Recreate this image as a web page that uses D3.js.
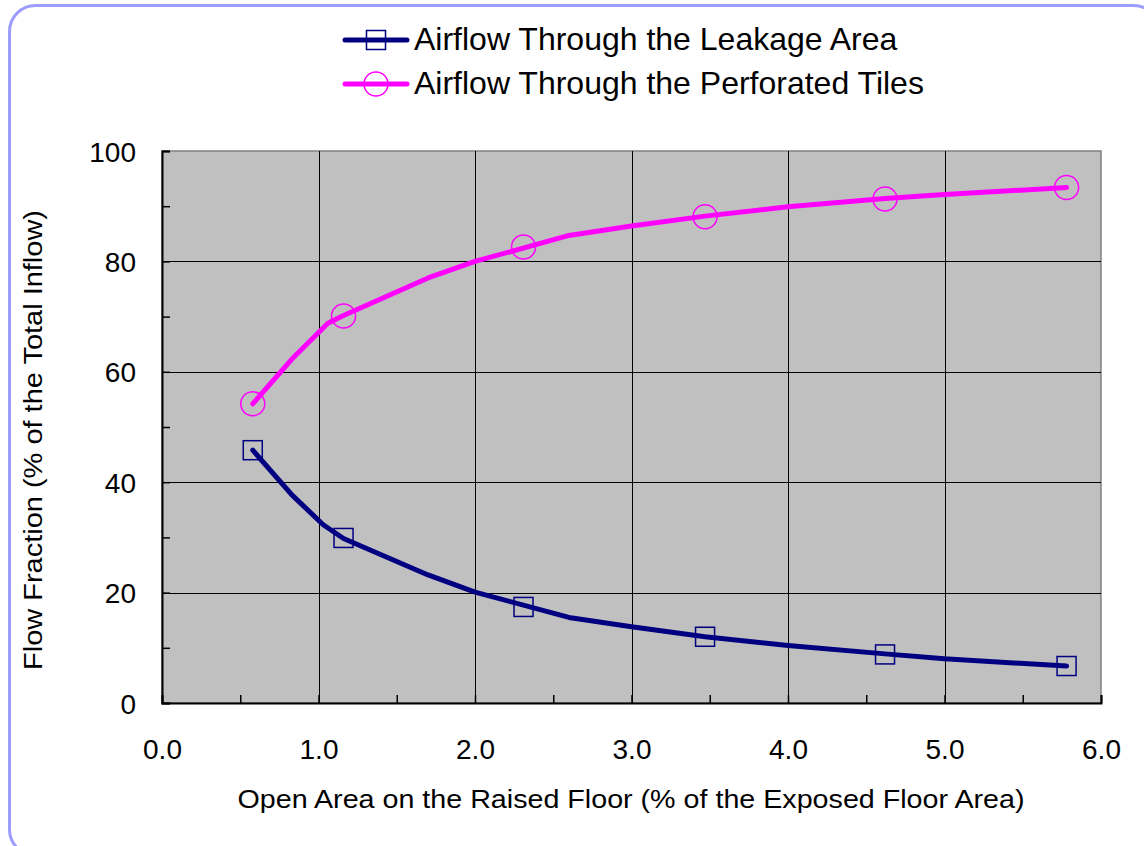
<!DOCTYPE html>
<html><head><meta charset="utf-8">
<script src="https://cdn.jsdelivr.net/npm/d3@7"></script>
<style>body{margin:0;background:#fff}svg{display:block}text{font-family:"Liberation Sans",Arial,sans-serif;fill:#000}</style>
</head><body>
<script>
// ---- data ----
const seriesNames = ["Airflow Through the Leakage Area", "Airflow Through the Perforated Tiles"];
const markerX = [0.58, 1.16, 2.31, 3.47, 4.62, 5.78];
const leakageMarkers = [45.8, 29.9, 17.4, 12.0, 8.8, 6.7];
const tilesMarkers = [54.2, 70.1, 82.6, 88.1, 91.3, 93.4];
const leakageLineX = [0.58, 0.83, 1.03, 1.16, 1.70, 2.00, 2.60, 3.00, 3.47, 4.00, 4.62, 5.00, 5.78];
const leakageLineY = [45.8, 37.7, 32.3, 29.8, 23.2, 20.1, 15.5, 13.8, 12.0, 10.4, 8.9, 8.0, 6.7];
const tilesLineX = [0.58, 0.83, 1.06, 1.16, 1.70, 2.00, 2.60, 3.00, 3.47, 4.00, 4.62, 5.00, 5.78];
const tilesLineY = [54.2, 62.3, 68.8, 70.2, 77.0, 80.0, 84.7, 86.4, 88.2, 89.9, 91.4, 92.1, 93.4];
const xTicks = [0, 1, 2, 3, 4, 5, 6];
const xMinorTicks = [0.5, 1.5, 2.5, 3.5, 4.5, 5.5];
const yTicks = [0, 20, 40, 60, 80, 100];
const yMinorTicks = [10, 30, 50, 70, 90];
const xTitle = "Open Area on the Raised Floor (% of the Exposed Floor Area)";
const yTitle = "Flow Fraction (% of the Total Inflow)";

const W = 1144, H = 846;
const m = {left: 162, right: 1101, top: 151, bottom: 703};
const svg = d3.select("body").append("svg").attr("width", W).attr("height", H);

// frame
svg.append("rect").attr("x", 9.5).attr("y", 5.5).attr("width", 1150).attr("height", 850)
  .attr("rx", 26).attr("fill", "#fff").attr("stroke", "#9c9cff").attr("stroke-width", 3);

const x = d3.scaleLinear().domain([0, 6]).range([m.left, m.right]);
const y = d3.scaleLinear().domain([0, 100]).range([m.bottom, m.top]);

// plot area
svg.append("rect").attr("x", m.left).attr("y", m.top).attr("width", m.right - m.left)
  .attr("height", m.bottom - m.top).attr("fill", "#c0c0c0").attr("stroke", "#808080").attr("stroke-width", 1.5);

// gridlines
const g = svg.append("g");
g.selectAll(".vg").data(xTicks.slice(1, -1)).join("line")
  .attr("x1", d => Math.round(x(d)) + 0.5).attr("x2", d => Math.round(x(d)) + 0.5)
  .attr("y1", m.top).attr("y2", m.bottom).attr("stroke", "#000").attr("stroke-width", 1);
g.selectAll(".hg").data(yTicks.slice(1, -1)).join("line")
  .attr("y1", d => Math.round(y(d)) + 0.5).attr("y2", d => Math.round(y(d)) + 0.5)
  .attr("x1", m.left).attr("x2", m.right).attr("stroke", "#000").attr("stroke-width", 1);

// axes
const xAxis = d3.axisBottom(x).tickValues(xTicks).tickFormat(d3.format(".1f")).tickSize(-8);
const gx = svg.append("g").attr("transform", `translate(0,${m.bottom})`).call(xAxis);
gx.select(".domain").attr("stroke", "#000").attr("stroke-width", 2);
gx.selectAll(".tick line").attr("stroke", "#000").attr("stroke-width", 1.5);
gx.selectAll("text").attr("font-size", 28).attr("y", 56).attr("dy", 0);
const xMinor = d3.axisBottom(x).tickValues(xMinorTicks).tickFormat("").tickSize(-8);
const gxm = svg.append("g").attr("transform", `translate(0,${m.bottom})`).call(xMinor);
gxm.select(".domain").remove();
gxm.selectAll(".tick line").attr("stroke", "#000").attr("stroke-width", 1.5);

const yAxis = d3.axisLeft(y).tickValues(yTicks).tickSize(-8);
const gy = svg.append("g").attr("transform", `translate(${m.left},0)`).call(yAxis);
gy.select(".domain").attr("stroke", "#000").attr("stroke-width", 2);
gy.selectAll(".tick line").attr("stroke", "#000").attr("stroke-width", 1.5);
gy.selectAll("text").attr("font-size", 28).attr("x", -26).attr("dy", 10);
const yMinor = d3.axisLeft(y).tickValues(yMinorTicks).tickFormat("").tickSize(-8);
const gym = svg.append("g").attr("transform", `translate(${m.left},0)`).call(yMinor);
gym.select(".domain").remove();
gym.selectAll(".tick line").attr("stroke", "#000").attr("stroke-width", 1.5);

// titles
svg.append("text").attr("x", 631).attr("y", 808).attr("text-anchor", "middle")
  .attr("font-size", 25).attr("textLength", 787).attr("lengthAdjust", "spacingAndGlyphs").text(xTitle);
svg.append("text").attr("transform", `translate(42,440) rotate(-90)`)
  .attr("text-anchor", "middle").attr("font-size", 25).attr("textLength", 460)
  .attr("lengthAdjust", "spacingAndGlyphs").text(yTitle);

// lines
const line = d3.line().x(d => x(d[0])).y(d => y(d[1]));
const colors = ["#000080", "#ff00ff"];
const lineData = [
  leakageLineX.map((v, i) => [v, leakageLineY[i]]),
  tilesLineX.map((v, i) => [v, tilesLineY[i]])
];
lineData.forEach((d, i) => {
  svg.append("path").datum(d).attr("d", line).attr("fill", "none")
    .attr("stroke", colors[i]).attr("stroke-width", 5).attr("stroke-linecap", "round").attr("stroke-linejoin", "round");
});

// markers
const S = 19;
svg.append("g").selectAll("rect").data(markerX.map((v, i) => [v, leakageMarkers[i]])).join("rect")
  .attr("x", d => x(d[0]) - S / 2).attr("y", d => y(d[1]) - S / 2).attr("width", S).attr("height", S)
  .attr("fill", "none").attr("stroke", colors[0]).attr("stroke-width", 1.5);
svg.append("g").selectAll("circle").data(markerX.map((v, i) => [v, tilesMarkers[i]])).join("circle")
  .attr("cx", d => x(d[0])).attr("cy", d => y(d[1])).attr("r", 12)
  .attr("fill", "none").attr("stroke", colors[1]).attr("stroke-width", 1.5);

// legend
const leg = svg.append("g");
seriesNames.forEach((name, i) => {
  const ly = 40 + i * 44;
  leg.append("line").attr("x1", 345).attr("x2", 407).attr("y1", ly).attr("y2", ly)
    .attr("stroke", colors[i]).attr("stroke-width", 5).attr("stroke-linecap", "round");
  if (i === 0) {
    leg.append("rect").attr("x", 376 - S / 2).attr("y", ly - S / 2).attr("width", S).attr("height", S)
      .attr("fill", "none").attr("stroke", colors[0]).attr("stroke-width", 1.5);
  } else {
    leg.append("circle").attr("cx", 376).attr("cy", ly).attr("r", 12)
      .attr("fill", "none").attr("stroke", colors[1]).attr("stroke-width", 1.5);
  }
  leg.append("text").attr("x", 414).attr("y", ly + 10).attr("font-size", 32).text(name);
});
</script>
</body></html>
